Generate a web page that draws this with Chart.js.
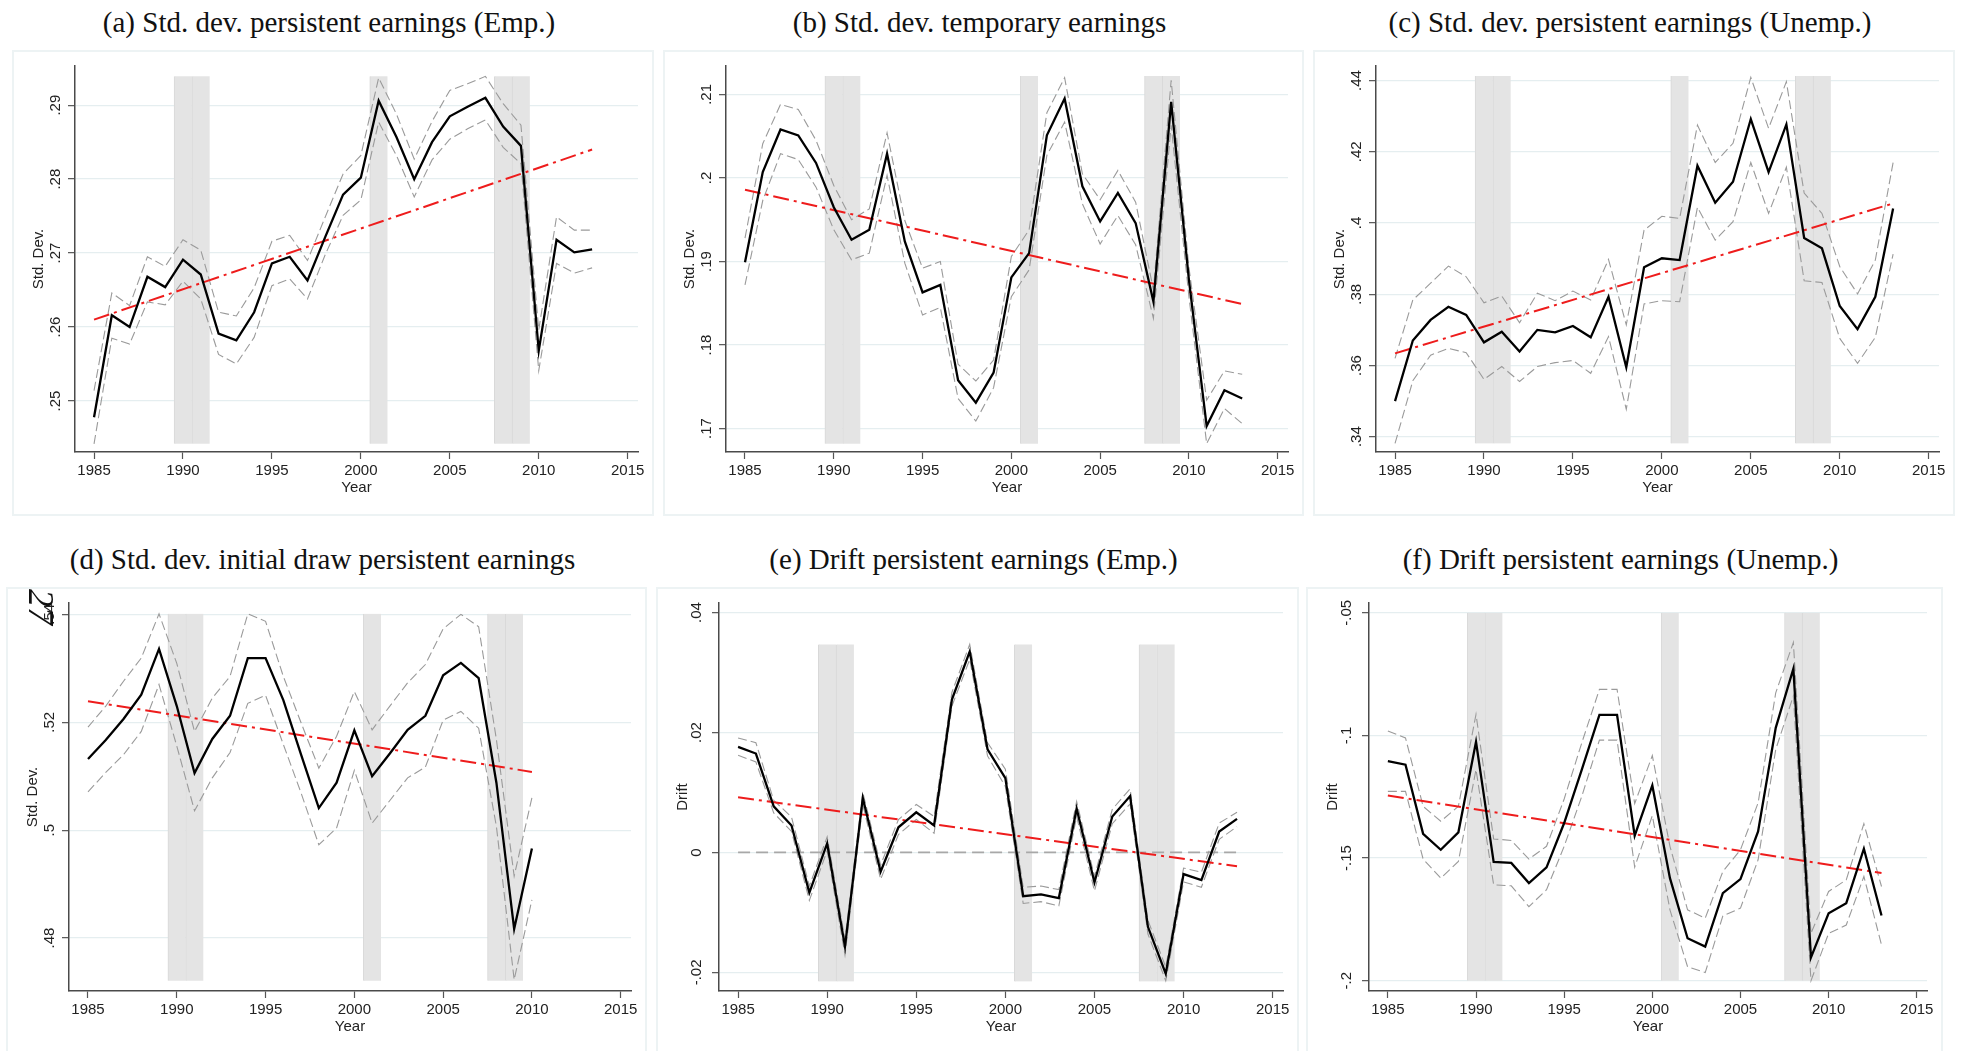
<!DOCTYPE html>
<html>
<head>
<meta charset="utf-8">
<script src="https://cdn.jsdelivr.net/npm/chart.js@4.4.1/dist/chart.umd.min.js"></script>
<style>
  body { margin: 0; width: 1965px; height: 1051px; background: #fff; overflow: hidden; position: relative; }
  .frame { position: absolute; border: 2px solid #edf3f4; box-sizing: border-box; }
  canvas { position: absolute; }
  .title { position: absolute; font-family: "Liberation Serif", serif; font-size: 29px; line-height: 34px;
           text-align: center; color: #111; white-space: nowrap; }
  .pageno { position: absolute; font-family: "Liberation Serif", serif; font-style: italic; font-size: 36px; line-height: 38px;
            width: 44px; text-align: center; color: #111; transform: rotate(90deg); }
</style>
</head>
<body>
<script>
// x axis
const years = [1985, 1986, 1987, 1988, 1989, 1990, 1991, 1992, 1993, 1994, 1995, 1996, 1997, 1998, 1999,
               2000, 2001, 2002, 2003, 2004, 2005, 2006, 2007, 2008, 2009, 2010, 2011, 2012, 2013];
const yearsD = [1985, 1986, 1987, 1988, 1989, 1990, 1991, 1992, 1993, 1994, 1995, 1996, 1997, 1998, 1999,
                2000, 2001, 2002, 2003, 2004, 2005, 2006, 2007, 2008, 2009, 2010];
const xTicks = [1985, 1990, 1995, 2000, 2005, 2010, 2015];
const recessionYears = [1990, 1991, 2001, 2008, 2009];

// (a) Std. dev. persistent earnings (Emp.)
const aEst = [.2478, .2616, .2600, .2668, .2654, .2691, .2671, .2591, .2582, .2620, .2686, .2695, .2663, .2722, .2779,
              .2802, .2906, .2857, .2800, .2850, .2885, .2898, .2910, .2871, .2845, .2568, .2718, .2701, .2705];
const aHi  = [.2514, .2646, .2629, .2695, .2682, .2718, .2704, .2620, .2615, .2653, .2716, .2724, .2690, .2749, .2807,
              .2832, .2937, .2888, .2827, .2878, .2920, .2929, .2939, .2902, .2873, .2596, .2749, .2731, .2731];
const aLo  = [.2442, .2585, .2577, .2634, .2630, .2662, .2638, .2563, .2550, .2586, .2656, .2665, .2638, .2698, .2751,
              .2772, .2877, .2832, .2776, .2826, .2854, .2868, .2880, .2843, .2821, .2541, .2686, .2673, .2680];
const aTrend = [.2610, .2840];
const aTicks = [.25, .26, .27, .28, .29];

// (b) Std. dev. temporary earnings
const bEst = [.1899, .2007, .2058, .2051, .2018, .1965, .1926, .1938, .2029, .1924, .1863, .1872, .1758, .1731, .1767,
              .1881, .1910, .2051, .2095, .1990, .1948, .1982, .1946, .1852, .2091, .1878, .1703, .1746, .1736];
const bHi  = [.1928, .2041, .2088, .2082, .2045, .1991, .1950, .1963, .2054, .1949, .1892, .1900, .1777, .1757, .1782,
              .1906, .1938, .2078, .2120, .2005, .1974, .2009, .1971, .1866, .2117, .1893, .1734, .1769, .1765];
const bLo  = [.1872, .1973, .2029, .2022, .1989, .1938, .1902, .1910, .2003, .1898, .1836, .1845, .1736, .1709, .1749,
              .1858, .1890, .2027, .2067, .1969, .1921, .1955, .1920, .1832, .2063, .1858, .1682, .1724, .1706];
const bTrend = [.1986, .1849];
const bTicks = [.17, .18, .19, .2, .21];

// (c) Std. dev. persistent earnings (Unemp.)
const cEst = [.3500, .3670, .3728, .3765, .3742, .3665, .3695, .3639, .3700, .3693, .3711, .3679, .3793, .3595, .3876,
              .3901, .3896, .4161, .4057, .4116, .4292, .4143, .4277, .3958, .3929, .3767, .3702, .3793, .4041];
const cHi  = [.3620, .3784, .3831, .3879, .3849, .3776, .3795, .3720, .3803, .3782, .3809, .3784, .3898, .3714, .3980,
              .4019, .4013, .4275, .4170, .4224, .4409, .4266, .4397, .4084, .4027, .3878, .3801, .3896, .4170];
const cLo  = [.3381, .3557, .3629, .3648, .3636, .3561, .3597, .3555, .3597, .3608, .3614, .3578, .3681, .3477, .3773,
              .3782, .3779, .4044, .3952, .4004, .4170, .4027, .4157, .3838, .3833, .3676, .3606, .3679, .3913];
const cTrend = [.3634, .4055];
const cTicks = [.34, .36, .38, .4, .42, .44];

// (d) Std. dev. initial draw persistent earnings (1985-2010)
const dEst = [.5132, .5167, .5206, .5251, .5336, .5230, .5106, .5169, .5212, .5319, .5319, .5241, .5140, .5041, .5088,
              .5185, .5100, .5142, .5186, .5212, .5287, .5310, .5282, .5088, .4817, .4966];
const dHi  = [.5191, .5230, .5276, .5319, .5401, .5309, .5183, .5245, .5285, .5401, .5387, .5285, .5199, .5115, .5174,
              .5257, .5186, .5230, .5273, .5307, .5373, .5400, .5377, .5168, .4915, .5060];
const dLo  = [.5071, .5107, .5140, .5183, .5270, .5156, .5036, .5097, .5144, .5235, .5250, .5159, .5069, .4973, .5004,
              .5111, .5013, .5055, .5097, .5117, .5204, .5220, .5189, .5007, .4723, .4871];
const dTrend = [.5239, .5108];
const dTicks = [.48, .5, .52, .54];

// (e) Drift persistent earnings (Emp.)
const eEst = [.0176, .0165, .0077, .0045, -.0067, .0015, -.0157, .0091, -.0032, .0042, .0067, .0045, .0255, .0335, .0172,
              .0124, -.0073, -.0070, -.0076, .0073, -.0050, .0060, .0094, -.0124, -.0202, -.0036, -.0046, .0035, .0056];
const eHi  = [.0191, .0183, .0087, .0059, -.0056, .0026, -.0145, .0100, -.0021, .0055, .0080, .0060, .0267, .0347, .0183,
              .0139, -.0058, -.0056, -.0062, .0085, -.0040, .0072, .0106, -.0113, -.0191, -.0026, -.0033, .0049, .0067];
const eLo  = [.0162, .0151, .0066, .0035, -.0080, .0003, -.0171, .0080, -.0045, .0030, .0055, .0032, .0244, .0322, .0161,
              .0110, -.0085, -.0082, -.0089, .0060, -.0064, .0048, .0081, -.0136, -.0214, -.0049, -.0058, .0022, .0043];
const eTrend = [.0092, -.0023];
const eTicks = [-.02, 0, .02, .04];

// (f) Drift persistent earnings (Unemp.)
const fEst = [-.1105, -.1119, -.1401, -.1466, -.1395, -.1026, -.1516, -.1520, -.1602, -.1538, -.1357, -.1139, -.0916, -.0916, -.1409,
              -.1204, -.1582, -.1827, -.1861, -.1643, -.1586, -.1391, -.0969, -.0728, -.1905, -.1725, -.1684, -.1462, -.1734];
const fHi  = [-.0982, -.1010, -.1289, -.1350, -.1289, -.0914, -.1422, -.1428, -.1504, -.1452, -.1259, -.1030, -.0812, -.0812, -.1278,
              -.1082, -.1452, -.1711, -.1745, -.1555, -.1466, -.1275, -.0826, -.0621, -.1807, -.1636, -.1589, -.1360, -.1616];
const fLo  = [-.1228, -.1228, -.1504, -.1582, -.1514, -.1139, -.1609, -.1613, -.1698, -.1629, -.1452, -.1248, -.1019, -.1019, -.1537,
              -.1327, -.1711, -.1943, -.1967, -.1736, -.1704, -.1507, -.1057, -.0839, -.2000, -.1807, -.1773, -.1575, -.1854];
const fTrend = [-.1245, -.1561];
const fTicks = [-.2, -.15, -.1, -.05];

// recession shading range and axis range per panel
const shadeRange = { a: [.2442, .2939], b: [.1682, .2122], c: [.3381, .4413], d: [.4721, .5401], e: [-.0215, .0347], f: [-.2, -.05] };
const yRange     = { a: [.2431, .2953], b: [.1672, .2134], c: [.3357, .4441], d: [.4702, .5421], e: [-.0231, .0416], f: [-.2042, -.0460] };

const panels = [
  { key: 'a', title: '(a) Std. dev. persistent earnings (Emp.)', ylabel: 'Std. Dev.', x: years, est: aEst, hi: aHi, lo: aLo, trend: aTrend, ticks: aTicks },
  { key: 'b', title: '(b) Std. dev. temporary earnings', ylabel: 'Std. Dev.', x: years, est: bEst, hi: bHi, lo: bLo, trend: bTrend, ticks: bTicks },
  { key: 'c', title: '(c) Std. dev. persistent earnings (Unemp.)', ylabel: 'Std. Dev.', x: years, est: cEst, hi: cHi, lo: cLo, trend: cTrend, ticks: cTicks },
  { key: 'd', title: '(d) Std. dev. initial draw persistent earnings', ylabel: 'Std. Dev.', x: yearsD, est: dEst, hi: dHi, lo: dLo, trend: dTrend, ticks: dTicks },
  { key: 'e', title: '(e) Drift persistent earnings (Emp.)', ylabel: 'Drift', x: years, est: eEst, hi: eHi, lo: eLo, trend: eTrend, ticks: eTicks, zero: true },
  { key: 'f', title: '(f) Drift persistent earnings (Unemp.)', ylabel: 'Drift', x: years, est: fEst, hi: fHi, lo: fLo, trend: fTrend, ticks: fTicks }
];

// frame boxes on the page
const boxes = {
  a: [12, 50, 642, 466], b: [663, 50, 641, 466], c: [1313, 50, 642, 466],
  d: [6, 587, 641, 468], e: [656, 587, 643, 468], f: [1306, 587, 637, 468]
};

const sans = { family: 'Liberation Sans', size: 15 };
const fmtY = v => String(Number(v.toFixed(4))).replace(/^(-?)0\./, '$1.');

function drawPanel(p) {
  const [left, top, w, h] = boxes[p.key];

  const frame = document.createElement('div');
  frame.className = 'frame';
  frame.style.cssText = `left:${left}px;top:${top}px;width:${w}px;height:${h}px`;
  document.body.appendChild(frame);

  const t = document.createElement('div');
  t.className = 'title';
  t.textContent = p.title;
  t.style.cssText = `left:${left - 4}px;width:${w}px;top:${top - 45}px`;
  document.body.appendChild(t);

  const cv = document.createElement('canvas');
  cv.width = w; cv.height = h;
  cv.style.left = left + 'px'; cv.style.top = top + 'px';
  document.body.appendChild(cv);

  const pts = ys => p.x.map((x, i) => ({ x: x, y: ys[i] }));
  const last = p.x[p.x.length - 1];
  const datasets = [
    { data: pts(p.est), borderColor: '#000', borderWidth: 2.3 },
    { data: [{ x: p.x[0], y: p.trend[0] }, { x: last, y: p.trend[1] }], borderColor: '#ee1c1c', borderWidth: 2, borderDash: [16, 5, 3, 5] },
    { data: pts(p.hi), borderColor: '#9a9a9a', borderWidth: 1.1, borderDash: [9, 4] },
    { data: pts(p.lo), borderColor: '#9a9a9a', borderWidth: 1.1, borderDash: [9, 4] }
  ];
  if (p.zero) {
    datasets.push({ data: [{ x: p.x[0], y: 0 }, { x: last, y: 0 }], borderColor: '#a8a8a8', borderWidth: 1.8, borderDash: [12, 6] });
  }
  datasets.push({
    type: 'bar',
    data: recessionYears.map(x => ({ x: x, y: shadeRange[p.key] })),
    backgroundColor: '#e4e4e4',
    borderColor: '#d8d8d8',
    borderWidth: { left: 1, right: 0, top: 0, bottom: 0 },
    borderSkipped: false,
    barPercentage: 1,
    categoryPercentage: 1
  });

  new Chart(cv, {
    type: 'line',
    data: { datasets: datasets },
    options: {
      responsive: false,
      animation: false,
      layout: { padding: { left: 0, top: 16, right: 16, bottom: 0 } },
      plugins: { legend: { display: false }, tooltip: { enabled: false } },
      elements: { point: { radius: 0 }, line: { tension: 0, fill: false } },
      scales: {
        x: {
          type: 'linear', min: 1983.93, max: 2015.58, offset: false,
          afterBuildTicks: s => { s.ticks = xTicks.map(v => ({ value: v })); },
          afterFit: s => { s.height = 64; },
          grid: { drawOnChartArea: false, offset: false, tickLength: 7, tickColor: '#555', tickWidth: 1.2 },
          border: { color: '#4a4a4a', width: 1.5 },
          ticks: { font: sans, color: '#222', padding: 3, maxRotation: 0, autoSkip: false, callback: v => String(v) },
          title: { display: true, text: 'Year', font: sans, color: '#222', padding: { top: 0, bottom: 19 } }
        },
        y: {
          type: 'linear', min: yRange[p.key][0], max: yRange[p.key][1], beginAtZero: false,
          afterBuildTicks: s => { s.ticks = p.ticks.map(v => ({ value: v })); },
          afterFit: s => { s.width = 63; },
          grid: { color: '#e5eef0', lineWidth: 1.3, tickLength: 7, tickColor: '#555', tickWidth: 1.2 },
          border: { color: '#4a4a4a', width: 1.5 },
          ticks: { font: sans, color: '#222', padding: 2, minRotation: 90, maxRotation: 90, crossAlign: 'center', autoSkip: false, callback: fmtY },
          title: { display: true, text: p.ylabel, font: sans, color: '#222', padding: { top: 18, bottom: 0 } }
        }
      }
    }
  });
}

panels.forEach(drawPanel);

// page number printed across panel (d)
const pn = document.createElement('div');
pn.className = 'pageno';
pn.textContent = '27';
pn.style.cssText = 'left:19px;top:588px';
document.body.appendChild(pn);
</script>
</body>
</html>
